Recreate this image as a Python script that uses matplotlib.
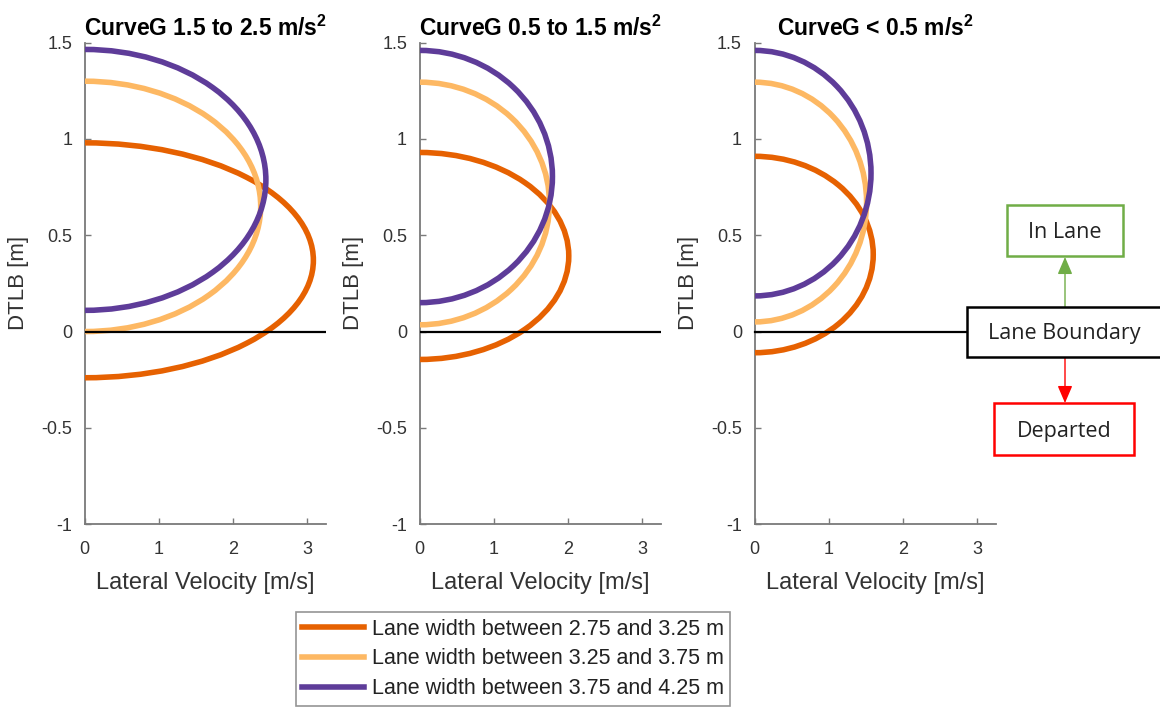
import matplotlib
matplotlib.use("Agg")
import matplotlib.pyplot as plt
from matplotlib.patches import Arc, Rectangle, FancyArrowPatch
from matplotlib.lines import Line2D
from matplotlib import transforms

plt.rcParams['font.family'] = ['Liberation Sans', 'DejaVu Sans']
plt.rcParams['mathtext.default'] = 'regular'

# Data
panel_titles = ['CurveG 1.5 to 2.5 m/s$^{2}$', 'CurveG 0.5 to 1.5 m/s$^{2}$', 'CurveG < 0.5 m/s$^{2}$']
series_labels = ['Lane width between 2.75 and 3.25 m',
                 'Lane width between 3.25 and 3.75 m',
                 'Lane width between 3.75 and 4.25 m']
series_colors = ['#e66101', '#fdb863', '#5e3c99']
# DTLB where each curve meets the y axis (upper / lower end) and its maximum lateral velocity
top_dtlb = [[0.98, 1.30, 1.465], [0.93, 1.295, 1.46], [0.91, 1.295, 1.46]]
bottom_dtlb = [[-0.24, 0.0, 0.11], [-0.145, 0.035, 0.15], [-0.11, 0.05, 0.185]]
max_lat_vel = [[3.08, 2.37, 2.44], [2.01, 1.75, 1.79], [1.60, 1.51, 1.57]]

x_ticks = [0, 1, 2, 3]
y_ticks = [-1, -0.5, 0, 0.5, 1, 1.5]
y_ticklabels = ['-1', '-0.5', '0', '0.5', '1', '1.5']

W, H = 1160, 710
fig = plt.figure(figsize=(W / 100, H / 100), dpi=100)


def fx(x):
    return x / W


def fy(y):
    return 1 - y / H


axis_color = '#7a7a7a'
text_color = '#333333'
lefts = [84.8, 419.6, 754.5]
axes = []
for k, left in enumerate(lefts):
    ax = fig.add_axes([fx(left), fy(524.1), 241.2 / W, (524.1 - 42.7) / H])
    for j in range(3):
        top, bot, xm = top_dtlb[k][j], bottom_dtlb[k][j], max_lat_vel[k][j]
        arc = Arc((0, (top + bot) / 2), 2 * xm, top - bot, theta1=-90, theta2=90,
                  color=series_colors[j], lw=4, zorder=3)
        ax.add_patch(arc)
    if k < 2:
        ax.axhline(0, color='black', lw=1.6, zorder=4)
    ax.set_xlim(0, 3.25)
    ax.set_ylim(-1, 1.5)
    ax.set_xticks(x_ticks)
    ax.set_yticks(y_ticks)
    ax.set_yticklabels(y_ticklabels)
    for s in ['top', 'right']:
        ax.spines[s].set_visible(False)
    for s in ['left', 'bottom']:
        ax.spines[s].set_color(axis_color)
        ax.spines[s].set_linewidth(1.3)
    ax.tick_params(direction='in', length=4, width=1, color=axis_color,
                   labelcolor=text_color, labelsize=13)
    ax.tick_params(axis='y', pad=9)
    ax.tick_params(axis='x', pad=12)
    ax.set_xlabel('Lateral Velocity [m/s]', fontsize=17, color=text_color, labelpad=10)
    ax.set_ylabel('DTLB [m]', fontsize=16, color=text_color, labelpad=9)
    ax.set_title(panel_titles[k], fontsize=16.5, fontweight='bold', pad=5)
    axes.append(ax)

# zero line of the last panel runs out to the "Lane Boundary" box
blend = transforms.blended_transform_factory(fig.transFigure, axes[2].transData)
fig.add_artist(Line2D([fx(754.5), fx(967)], [0, 0], transform=blend, color='black', lw=1.6))

box_font = ['Open Sans', 'DejaVu Sans']


def box(x0, y0, x1, y1, color, label):
    fig.add_artist(Rectangle((fx(x0), fy(y1)), fx(x1) - fx(x0), fy(y0) - fy(y1),
                             transform=fig.transFigure, facecolor='white',
                             edgecolor=color, lw=1.8, zorder=5))
    fig.text(fx((x0 + x1) / 2), fy((y0 + y1) / 2 + 2), label, ha='center', va='center',
             fontsize=15.5, family=box_font, color='#222222', zorder=6)


box(1007, 205, 1123, 256, '#70ad47', 'In Lane')
box(967, 307, 1162, 357, 'black', 'Lane Boundary')
box(994, 403, 1134, 455, '#ff0000', 'Departed')

arrow_style = '-|>,head_length=0.7,head_width=0.3'
fig.add_artist(FancyArrowPatch((fx(1065), fy(307)), (fx(1065), fy(257)),
                               transform=fig.transFigure, arrowstyle=arrow_style,
                               mutation_scale=15, color='#70ad47', lw=1, shrinkA=0, shrinkB=0))
fig.add_artist(FancyArrowPatch((fx(1065), fy(357)), (fx(1065), fy(403)),
                               transform=fig.transFigure, arrowstyle=arrow_style,
                               mutation_scale=15, color='#ff0000', lw=1, shrinkA=0, shrinkB=0))

handles = [Line2D([], [], color=c, lw=4) for c in series_colors]
leg = fig.legend(handles, series_labels, loc='center', bbox_to_anchor=(fx(513), fy(659)),
                 fontsize=15.5, frameon=True, fancybox=False, edgecolor='#7a7a7a',
                 handlelength=2.9, handletextpad=0.35, labelspacing=0.4,
                 borderpad=0.3, borderaxespad=0)
leg.get_frame().set_linewidth(1.2)
for t in leg.get_texts():
    t.set_color('#222222')

fig.savefig('out.png', dpi=100)
